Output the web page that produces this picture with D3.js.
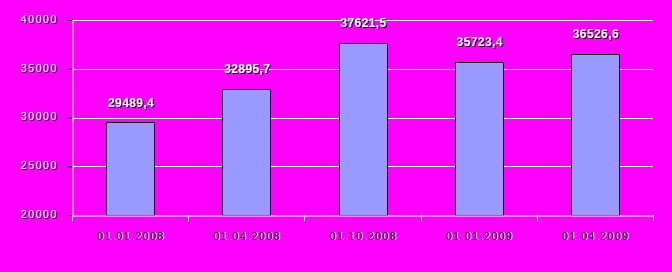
<!DOCTYPE html>
<html><head><meta charset="utf-8">
<script src="https://cdn.jsdelivr.net/npm/d3@7"></script>
<style>
html,body{margin:0;padding:0;background:#ff00ff;}
svg{display:block;}
</style></head>
<body>
<script>
const categories = ["01.01.2008","01.04.2008","01.10.2008","01.01.2009","01.04.2009"];
const values = [29489.4, 32895.7, 37621.5, 35723.4, 36526.6];
const valueLabels = ["29489,4","32895,7","37621,5","35723,4","36526,6"];
const yTicks = [20000, 25000, 30000, 35000, 40000];

const W = 672, H = 272;
const m = {left: 72, right: 19, top: 20, bottom: 57};
const svg = d3.select("body").append("svg").attr("width", W).attr("height", H);
svg.append("rect").attr("width", W).attr("height", H).attr("fill", "#ff00ff");

const x = d3.scaleBand().domain(categories).range([m.left, W - m.right]).paddingInner(0).paddingOuter(0);
const y = d3.scaleLinear().domain([20000, 40000]).range([H - m.bottom, m.top]);

const g = svg.append("g");
g.selectAll(".grid").data(yTicks.slice(1)).join("line")
  .attr("x1", m.left).attr("x2", W - m.right)
  .attr("y1", d => Math.round(y(d)) + 0.5).attr("y2", d => Math.round(y(d)) + 0.5)
  .attr("stroke", "#fff").attr("stroke-width", 1);

const bw = x.bandwidth() * 0.41;
g.selectAll(".bar").data(values).join("rect")
  .attr("x", (d, i) => Math.round(x(categories[i]) + x.bandwidth() / 2 - bw / 2) + 0.5)
  .attr("y", d => Math.round(y(d)) + 0.5)
  .attr("width", Math.round(bw))
  .attr("height", d => Math.round(y(20000)) - Math.round(y(d)))
  .attr("fill", "#9999ff").attr("stroke", "#000").attr("stroke-width", 1);

const yAxis = d3.axisLeft(y).tickValues(yTicks).tickSize(5).tickFormat(d => d);
const ya = svg.append("g").attr("transform", `translate(${m.left + 0.5},0)`).call(yAxis);
ya.select(".domain").attr("stroke", "#fff");
ya.selectAll(".tick line").attr("stroke", "#000");
ya.selectAll(".tick text").remove();

const xAxis = d3.axisBottom(x).tickSize(0);
const xa = svg.append("g").attr("transform", `translate(0,${Math.round(y(20000)) + 0.5})`).call(xAxis);
xa.select(".domain").attr("stroke", "#fff");
xa.selectAll(".tick text").remove();
const bounds = categories.map(c => x(c)).concat([W - m.right]);
svg.selectAll(".xt").data(bounds).join("line")
  .attr("x1", d => Math.round(d) + 0.5).attr("x2", d => Math.round(d) + 0.5)
  .attr("y1", Math.round(y(20000))).attr("y2", Math.round(y(20000)) + 6)
  .attr("stroke", "#fff");

function addText(parent, data, xf, yf, txt, anchor, size, weight, ls, layers) {
  const grp = parent.append("g");
  layers.forEach(([col, dx, dy]) => {
    grp.selectAll(null).data(data).join("text")
      .attr("x", (d, i) => xf(d, i) + dx)
      .attr("y", (d, i) => yf(d, i) + dy)
      .attr("text-anchor", anchor)
      .attr("dominant-baseline", "middle")
      .attr("font-family", "Liberation Sans, Arial, sans-serif")
      .attr("font-size", size).attr("font-weight", weight)
      .attr("letter-spacing", ls)
      .attr("fill", col)
      .text((d, i) => txt(d, i));
  });
}
// y tick labels: white with black shadow
addText(svg, yTicks, d => 58, d => y(d), d => d, "end", 10.5, "normal", "1.6px", [["#000", 1, 1], ["#fff", 0, 0]]);
// x labels: black with white highlight
addText(svg, categories, d => x(d) + x.bandwidth() / 2 + 1, d => 237, d => d, "middle", 10.5, "normal", "1.5px", [["#fff", 1, 0], ["#000", 0, 0]]);
// value labels
addText(svg, values, (d, i) => x(categories[i]) + x.bandwidth() / 2 + 1, d => y(d) - 19, (d, i) => valueLabels[i], "middle", 12, "bold", "0.4px", [["#000", 1, 1], ["#fff", 0, 0]]);
</script>
</body></html>
